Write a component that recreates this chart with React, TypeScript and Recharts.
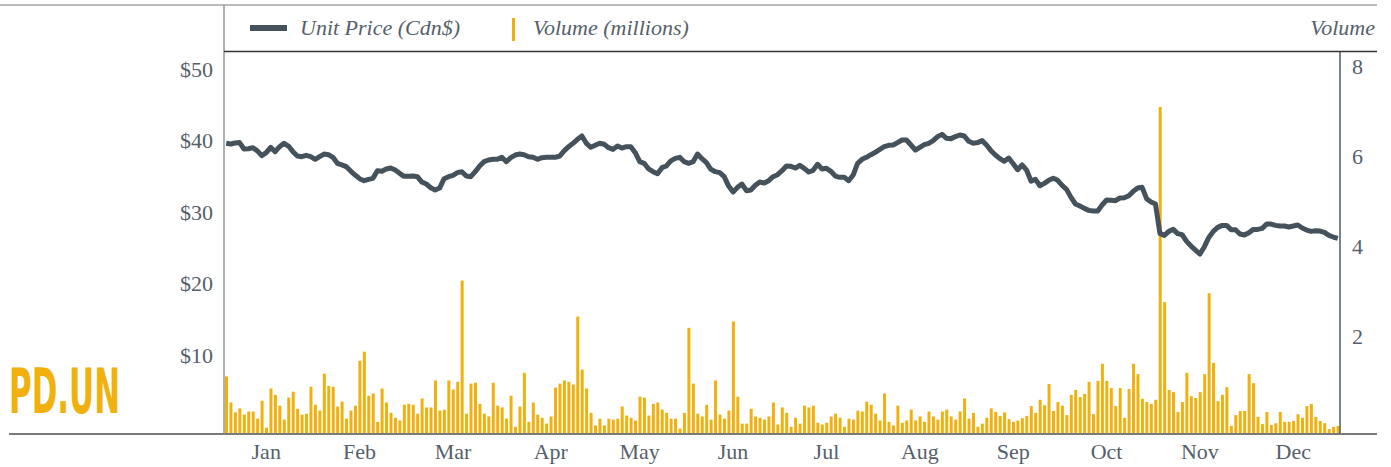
import React from 'react'
import { ComposedChart, Bar, Line, XAxis, YAxis } from 'recharts'

// closing unit price, one value per trading day
const price = [
  40.66, 40.57, 40.7, 40.76, 39.86, 39.9, 40.05, 39.6, 38.93, 39.35,
  40.1, 39.49, 40.19, 40.66, 40.28, 39.49, 38.88, 38.79, 38.98, 38.79,
  38.42, 38.79, 39.16, 39.07, 38.7, 37.86, 37.63, 37.39, 36.78, 36.22,
  35.71, 35.43, 35.62, 35.76, 36.83, 36.74, 37.07, 37.2, 36.92, 36.46,
  36.04, 36.04, 36.08, 35.99, 35.24, 34.96, 34.45, 34.13, 34.4, 35.71,
  35.99, 36.18, 36.55, 36.69, 36.08, 35.99, 36.69, 37.49, 38.09, 38.32,
  38.42, 38.42, 38.7, 38.09, 38.65, 39.02, 39.16, 39.07, 38.79, 38.7,
  38.42, 38.65, 38.7, 38.7, 38.7, 38.88, 39.6, 40.19, 40.66, 41.21,
  41.68, 40.66, 40.1, 40.38, 40.66, 40.52, 40.05, 39.81, 40.28, 40.0,
  40.19, 40.19, 39.35, 38.09, 37.86, 37.07, 36.69, 36.41, 37.25, 37.49,
  38.19, 38.55, 38.7, 38.09, 37.86, 38.09, 39.16, 38.51, 37.95, 37.02,
  36.69, 36.55, 35.99, 34.68, 33.84, 34.5, 34.96, 34.03, 34.12, 34.78,
  35.24, 35.1, 35.43, 35.99, 36.27, 36.83, 37.49, 37.44, 37.2, 37.58,
  37.16, 36.64, 36.88, 37.72, 37.07, 37.16, 36.74, 36.08, 35.9, 35.9,
  35.43, 36.22, 37.86, 38.42, 38.7, 39.07, 39.4, 39.81, 40.19, 40.38,
  40.42, 40.76, 41.12, 41.12, 40.42, 39.72, 40.1, 40.47, 40.66, 41.03,
  41.59, 41.91, 41.35, 41.31, 41.59, 41.82, 41.68, 40.94, 40.66, 40.76,
  41.03, 40.42, 39.63, 39.02, 38.51, 38.14, 38.6, 37.81, 36.97, 37.63,
  36.92, 35.38, 35.62, 34.73, 35.06, 35.48, 35.76, 35.48, 34.78, 34.22,
  33.1, 32.17, 31.89, 31.56, 31.28, 31.19, 31.19, 32.03, 32.73, 32.68,
  32.63, 33.01, 33.05, 33.33, 33.94, 34.4, 34.5, 32.91, 32.45, 32.17,
  28.06, 27.78, 28.34, 28.62, 28.02, 27.87, 26.94, 26.29, 25.73, 25.17,
  26.2, 27.5, 28.34, 28.9, 29.18, 29.18, 28.58, 28.58, 27.97, 27.83,
  28.16, 28.62, 28.62, 28.76, 29.37, 29.37, 29.18, 29.09, 29.09, 28.95,
  29.09, 29.23, 28.81, 28.53, 28.34, 28.44, 28.39, 28.2, 27.78, 27.55,
  27.36,
]

// daily volume, millions of units
const volume = [
  1.28, 0.7, 0.48, 0.57, 0.43, 0.5, 0.5, 0.34, 0.74, 0.14,
  1.01, 0.87, 0.63, 0.32, 0.81, 0.94, 0.56, 0.43, 0.45, 1.05,
  0.65, 0.52, 1.34, 1.07, 1.05, 0.61, 0.72, 0.34, 0.52, 0.63,
  1.63, 1.83, 0.85, 0.9, 0.27, 1.01, 0.7, 0.47, 0.36, 0.3,
  0.65, 0.67, 0.65, 0.45, 0.79, 0.59, 0.59, 1.19, 0.52, 0.54,
  1.19, 0.99, 1.16, 3.41, 0.45, 1.12, 1.14, 0.67, 0.45, 0.39,
  1.14, 0.63, 0.59, 0.34, 0.85, 0.16, 0.61, 1.36, 0.27, 0.7,
  0.43, 0.36, 0.23, 0.39, 1.03, 1.12, 1.19, 1.16, 1.1, 2.61,
  1.43, 1.01, 0.47, 0.19, 0.34, 0.19, 0.34, 0.32, 0.34, 0.61,
  0.41, 0.36, 0.3, 0.83, 0.81, 0.41, 0.67, 0.7, 0.54, 0.47,
  0.34, 0.34, 0.12, 0.47, 2.36, 1.12, 0.45, 0.39, 0.65, 0.32,
  1.19, 0.43, 0.34, 0.52, 2.5, 0.83, 0.23, 0.23, 0.56, 0.39,
  0.36, 0.32, 0.39, 0.7, 0.21, 0.59, 0.47, 0.16, 0.36, 0.23,
  0.63, 0.59, 0.63, 0.25, 0.21, 0.25, 0.39, 0.45, 0.36, 0.16,
  0.34, 0.32, 0.52, 0.5, 0.72, 0.65, 0.45, 0.3, 0.9, 0.27,
  0.19, 0.63, 0.25, 0.3, 0.54, 0.3, 0.39, 0.27, 0.5, 0.39,
  0.32, 0.5, 0.54, 0.39, 0.32, 0.5, 0.79, 0.34, 0.47, 0.16,
  0.23, 0.36, 0.57, 0.49, 0.4, 0.48, 0.33, 0.27, 0.3, 0.35,
  0.4, 0.62, 0.47, 0.76, 0.64, 1.11, 0.51, 0.71, 0.63, 0.42,
  0.87, 0.98, 0.82, 0.89, 1.16, 0.44, 1.18, 1.56, 1.18, 1.02,
  0.62, 1.02, 0.36, 1.0, 1.56, 1.33, 0.78, 0.71, 0.67, 0.76,
  7.27, 2.93, 0.98, 0.93, 0.49, 0.71, 1.36, 0.84, 0.8, 0.93,
  1.33, 3.13, 1.58, 0.73, 0.87, 1.04, 0.18, 0.42, 0.51, 0.51,
  1.33, 1.13, 0.38, 0.22, 0.49, 0.2, 0.24, 0.49, 0.27, 0.27,
  0.29, 0.44, 0.36, 0.62, 0.67, 0.38, 0.29, 0.24, 0.11, 0.16,
  0.18,
]

const monthLabels = ['Jan', 'Feb', 'Mar', 'Apr', 'May', 'Jun', 'Jul', 'Aug', 'Sep', 'Oct', 'Nov', 'Dec']
// trading day under each month label
const monthTickDays = [9, 30, 51, 73, 93, 114, 135, 156, 177, 198, 219, 240]
const priceTicks = [10, 20, 30, 40, 50]
const volumeTicks = [2, 4, 6, 8]

const data = price.map((p, i) => ({ day: i, price: p, volume: volume[i] }))

const SERIF = '"Liberation Serif", "Times New Roman", serif'
const TEXT = '#55606a'
const SLATE = '#45525b'
const GOLD = '#f0b10f'

function PriceTick({ x, y, payload }: any) {
  return (
    <text x={x} y={y} textAnchor="end" fill={TEXT} fontFamily={SERIF} fontSize={22}>
      {'$' + payload.value}
    </text>
  )
}

function VolumeTick({ x, y, payload }: any) {
  return (
    <text x={x} y={y} textAnchor="start" fill={TEXT} fontFamily={SERIF} fontSize={22}>
      {payload.value}
    </text>
  )
}

function MonthTick({ x, y, payload }: any) {
  const idx = monthTickDays.indexOf(payload.value)
  return (
    <text x={x} y={y + 25} textAnchor="middle" fill={TEXT} fontFamily={SERIF} fontSize={22}>
      {monthLabels[idx]}
    </text>
  )
}

export default function App() {
  return (
    <div style={{ position: 'absolute', left: 0, top: 0, width: 1391, height: 467, background: '#fff' }}>
      <ComposedChart width={1391} height={467} data={data} margin={{ top: 52, right: 0, bottom: 0, left: 0 }}>
        <XAxis
          dataKey="day"
          type="category"
          height={33}
          ticks={monthTickDays}
          interval={0}
          tickSize={0}
          tickMargin={0}
          tick={<MonthTick />}
          axisLine={{ stroke: '#7a7a7a', strokeWidth: 2 }}
        />
        <YAxis
          yAxisId="price"
          orientation="left"
          width={224}
          domain={[0, 53.43]}
          allowDataOverflow
          ticks={priceTicks}
          tickSize={0}
          tickMargin={11}
          tick={<PriceTick />}
          axisLine={{ stroke: '#8d979f', strokeWidth: 1.5 }}
        />
        <YAxis
          yAxisId="vol"
          orientation="right"
          width={51}
          domain={[0, 8.49]}
          allowDataOverflow
          ticks={volumeTicks}
          tickSize={0}
          tickMargin={12}
          tick={<VolumeTick />}
          axisLine={{ stroke: '#4f5a63', strokeWidth: 1.5 }}
        />
        <Line
          yAxisId="price"
          dataKey="price"
          type="linear"
          stroke={SLATE}
          strokeWidth={5}
          strokeLinejoin="round"
          dot={false}
          activeDot={false}
          isAnimationActive={false}
        />
        <Bar yAxisId="vol" dataKey="volume" fill={GOLD} barSize={3} isAnimationActive={false} />
      </ComposedChart>

      {/* frame, legend and ticker */}
      <svg width={1391} height={467} style={{ position: 'absolute', left: 0, top: 0, pointerEvents: 'none' }}>
        <line x1={0} y1={5} x2={1377} y2={5} stroke="#a3a3a3" strokeWidth={1.5} />
        <line x1={224} y1={5} x2={224} y2={52} stroke="#8d979f" strokeWidth={1.5} />
        <line x1={224} y1={51.5} x2={1377} y2={51.5} stroke="#333" strokeWidth={1.5} />
        <line x1={9} y1={434} x2={224} y2={434} stroke="#7a7a7a" strokeWidth={2} />
        <line x1={1340} y1={434} x2={1377} y2={434} stroke="#7a7a7a" strokeWidth={2} />

        <line x1={250} y1={28} x2={287} y2={28} stroke={SLATE} strokeWidth={6} />
        <text x={300} y={35} fill={TEXT} fontFamily={SERIF} fontStyle="italic" fontSize={22}>
          Unit Price (Cdn$)
        </text>
        <rect x={512} y={18} width={3} height={23} fill={GOLD} />
        <text x={533} y={35} fill={TEXT} fontFamily={SERIF} fontStyle="italic" fontSize={22}>
          Volume (millions)
        </text>
        <text x={1375} y={35} textAnchor="end" fill={TEXT} fontFamily={SERIF} fontStyle="italic" fontSize={22}>
          Volume
        </text>

        <text
          transform="translate(9 413) scale(0.6 1)"
          x={0}
          y={0}
          fill={GOLD}
          fontFamily='"DejaVu Sans Condensed", "Liberation Sans Narrow", sans-serif'
          fontWeight={700}
          fontSize={63}
          textLength={185}
          lengthAdjust="spacingAndGlyphs"
        >
          PD.UN
        </text>
      </svg>
    </div>
  )
}
